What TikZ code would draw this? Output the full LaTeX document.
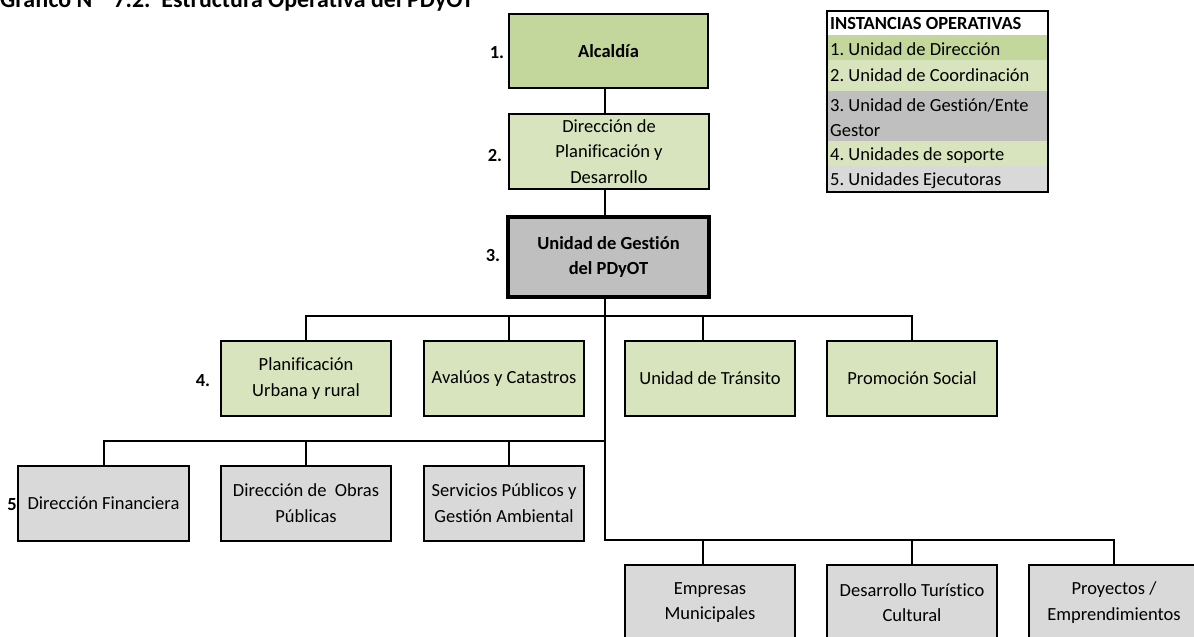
\documentclass[tikz,border=0pt]{standalone}
\usepackage{fontspec}
\setmainfont{Carlito}[Ligatures={NoCommon,NoContextual}]
\frenchspacing
\definecolor{gA}{HTML}{C3D69B}
\definecolor{gB}{HTML}{D7E4BD}
\definecolor{grA}{HTML}{BFBFBF}
\definecolor{grB}{HTML}{D9D9D9}
\begin{document}
\frenchspacing
\begin{tikzpicture}[x=1pt,y=-1pt,
  box/.style={draw=black, line width=2.2pt, align=center, inner sep=0pt,
    font=\fontsize{18.5}{25.5}\selectfont},
  conn/.style={line width=1.6pt},
  lbl/.style={font=\bfseries\fontsize{18.5}{22}\selectfont, inner sep=0pt},
  legtxt/.style={font=\fontsize{18.5}{22}\selectfont, inner sep=0pt, anchor=base west},
]
\useasboundingbox (0,0) rectangle (1194,637);
\clip (0,0) rectangle (1194,637);

% title (cut at top, as in reference)
\node[anchor=base west, inner sep=0pt, font=\bfseries\fontsize{23.9}{28}\selectfont] (title) at (0,7.3)
  {Gráfico Nº\ \ 7.2.\ \ Estructura Operativa del PDyOT};

% top chain
\node[box, fill=gA, minimum width=199pt, minimum height=74pt] (alc) at (608.5,51) {\bfseries Alcaldía};
\node[box, fill=gB, minimum width=200pt, minimum height=75pt] (dir) at (609,151.5) {Dirección de\\Planificación y\\Desarrollo};
\node[box, fill=grA, line width=3.8pt, minimum width=201pt, minimum height=80pt] (ug) at (608.5,257) {\bfseries Unidad de Gestión\\\bfseries del PDyOT};

% row 4
\node[box, fill=gB, minimum width=170pt, minimum height=75pt] (planif) at (306,378.5) {Planificación\\Urbana y rural};
\node[box, fill=gB, minimum width=160pt, minimum height=75pt] (aval) at (504,378.5) {Avalúos y Catastros};
\node[box, fill=gB, minimum width=170pt, minimum height=75pt] (trans) at (710,378.5) {Unidad de Tránsito};
\node[box, fill=gB, minimum width=170pt, minimum height=75pt] (promo) at (912,378.5) {Promoción Social};

% row 5
\node[box, fill=grB, minimum width=171pt, minimum height=75pt] (dfin) at (103.5,503.2) {Dirección Financiera};
\node[box, fill=grB, minimum width=170pt, minimum height=75pt] (dobras) at (306,503.2) {Dirección de\ \ Obras\\Públicas};
\node[box, fill=grB, minimum width=160pt, minimum height=75pt] (serv) at (504,503.2) {Servicios Públicos y\\Gestión Ambiental};

% row 6
\node[box, fill=grB, minimum width=170pt, minimum height=75pt] (emp) at (710,602.5) {Empresas\\Municipales};
\node[box, fill=grB, minimum width=170pt, minimum height=75pt] (tur) at (912,602.5) {Desarrollo Turístico\\Cultural};
\node[box, fill=grB, minimum width=170pt, minimum height=75pt] (proy) at (1114,602.5) {Proyectos /\\Emprendimientos};

% level labels
\node[lbl] (l1) at (497,53) {1.};
\node[lbl] (l2) at (495,155) {2.};
\node[lbl] (l3) at (493,255) {3.};
\node[lbl] (l4) at (203,381) {4.};
\node[lbl] (l5) at (12,505) {5};

% connector helper coordinates
\coordinate (sp) at (605,0);
\coordinate (b4) at (0,316);
\coordinate (b5) at (0,441);
\coordinate (b6) at (0,540);
\coordinate (x1) at (104,0);
\coordinate (x2) at (306,0);
\coordinate (x3) at (509,0);
\coordinate (x4) at (703,0);
\coordinate (x5) at (912,0);
\coordinate (x6) at (1114,0);

\draw[conn] (alc.south -| sp) -- (dir.north -| sp);
\draw[conn] (dir.south -| sp) -- (ug.north -| sp);
\draw[conn] (ug.south -| sp) -- (sp |- b6) -- (x6 |- b6) -- (x6 |- proy.north);
% row 4 bus
\draw[conn] (x2 |- planif.north) -- (x2 |- b4) -- (x5 |- b4) -- (x5 |- promo.north);
\draw[conn] (x3 |- b4) -- (x3 |- aval.north);
\draw[conn] (x4 |- b4) -- (x4 |- trans.north);
% row 5 bus
\draw[conn] (x1 |- dfin.north) -- (x1 |- b5) -- (sp |- b5);
\draw[conn] (x2 |- b5) -- (x2 |- dobras.north);
\draw[conn] (x3 |- b5) -- (x3 |- serv.north);
% row 6 drops
\draw[conn] (x4 |- b6) -- (x4 |- emp.north);
\draw[conn] (x5 |- b6) -- (x5 |- tur.north);

% legend
\fill[white] (827,11) rectangle (1048,35);
\fill[gA] (827,35) rectangle (1048,60);
\fill[gB] (827,60) rectangle (1048,90.7);
\fill[grA] (827,90.7) rectangle (1048,140.7);
\fill[gB] (827,140.7) rectangle (1048,166);
\fill[grB] (827,166) rectangle (1048,191.7);
\draw[line width=1.7pt] (827,11) rectangle (1048,191.7);
\node[legtxt, font=\bfseries\fontsize{18.5}{22}\selectfont] (lg0) at (830,29.3) {INSTANCIAS OPERATIVAS};
\node[legtxt] (lg1) at (830,55) {1. Unidad de Dirección};
\node[legtxt] (lg2) at (830,81.7) {2. Unidad de Coordinación};
\node[legtxt] (lg3) at (830,111) {3. Unidad de Gestión/Ente};
\node[legtxt] (lg3b) at (830,136) {Gestor};
\node[legtxt] (lg4) at (830,160) {4. Unidades de soporte};
\node[legtxt] (lg5) at (830,185) {5. Unidades Ejecutoras};
\end{tikzpicture}
\end{document}
